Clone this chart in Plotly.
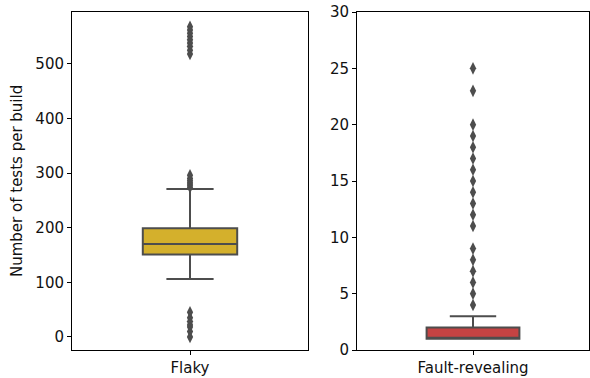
import plotly.graph_objects as go

# Data
categories = ["Flaky", "Fault-revealing"]
flaky_stats = dict(q1=151, median=170, q3=199, lower=106, upper=271)
flaky_outliers = [0, 10, 18, 22, 28, 35, 45, 274, 278, 282, 286, 290, 296,
                  518, 525, 532, 538, 544, 550, 556, 562, 568]
fault_stats = dict(q1=1, median=1, q3=2, lower=1, upper=3)
fault_outliers = [4, 5, 6, 7, 8, 9, 11, 12, 13, 14, 15, 16, 17, 18, 19, 20, 23, 25]
y_label = "Number of tests per build"

colors = ["#D4B02C", "#C44343"]
edge = "#4D4D4D"
font = "DejaVu Sans"
fs = 15
txt = "#111"

fig = go.Figure()

for i, (cat, st, outs, col) in enumerate(zip(categories, [flaky_stats, fault_stats],
                                             [flaky_outliers, fault_outliers], colors)):
    xa = "x" if i == 0 else "x2"
    ya = "y" if i == 0 else "y2"
    fig.add_trace(go.Box(
        x=[cat], q1=[st["q1"]], median=[st["median"]], q3=[st["q3"]],
        lowerfence=[st["lower"]], upperfence=[st["upper"]],
        fillcolor=col, line=dict(color=edge, width=2),
        width=0.4, whiskerwidth=0.5, boxpoints=False,
        xaxis=xa, yaxis=ya, showlegend=False, hoverinfo="skip"))
    fig.add_trace(go.Scatter(
        x=[cat] * len(outs), y=outs, mode="markers",
        marker=dict(symbol="diamond-tall", size=9, color=edge, line=dict(width=0)),
        xaxis=xa, yaxis=ya, showlegend=False, hoverinfo="skip"))

axis_common = dict(showline=True, linecolor="black", linewidth=1, mirror=True,
                   ticks="outside", ticklen=4, tickwidth=1, tickcolor="black",
                   showgrid=False, zeroline=False, automargin=False,
                   tickfont=dict(family=font, size=fs, color=txt))

W = 517
fig.update_layout(
    width=590, height=378,
    margin=dict(l=72, r=1, t=12, b=28),
    plot_bgcolor="white", paper_bgcolor="white",
    font=dict(family=font, size=fs, color=txt),
    xaxis=dict(domain=[0, 236 / W], type="category", range=[-0.5, 0.5], **axis_common),
    xaxis2=dict(domain=[285 / W, 1], type="category", range=[-0.5, 0.5], **axis_common),
    yaxis=dict(anchor="x", range=[-24, 595], tickvals=[0, 100, 200, 300, 400, 500],
               **axis_common),
    yaxis2=dict(anchor="x2", range=[0, 30], tickvals=[0, 5, 10, 15, 20, 25, 30],
                **axis_common),
    annotations=[dict(text=y_label, textangle=-90, xref="paper", yref="paper",
                      x=(17 - 72) / W, y=0.5, xanchor="center", yanchor="middle",
                      showarrow=False, font=dict(family=font, size=fs, color=txt))],
)

fig.write_html("out.html", config={"displayModeBar": False},
               post_script="document.body.style.margin='0';")
